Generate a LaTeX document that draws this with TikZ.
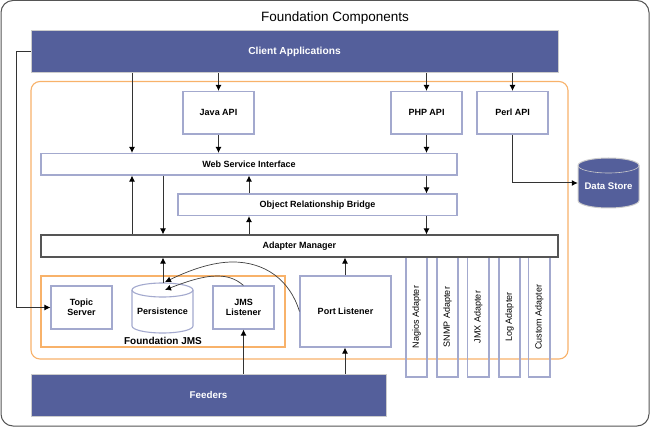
\documentclass[tikz,border=0pt]{standalone}
\usepackage{fontspec}
\setmainfont{Liberation Sans}
\usetikzlibrary{arrows.meta,calc}
\definecolor{navy}{HTML}{545F9B}
\definecolor{bluebd}{HTML}{A3A9CE}
\definecolor{orangebd}{HTML}{F8B26A}
\definecolor{darkbd}{HTML}{555555}
\tikzset{
  lbl/.style={font=\bfseries\fontsize{9}{10.5}\selectfont,align=center,text=black},
  rbox/.style={draw=#1,line width=1.1pt,inner sep=0pt,lbl},
  rbox/.default=bluebd,
  band/.style={fill=navy,draw=black!20,line width=1pt,inner sep=0pt,lbl,text=white},
  adapter/.style={rbox,font=\fontsize{9}{10.5}\selectfont,minimum height=120pt},
  conn/.style={draw=black!80,line width=1pt,-{Latex[length=6pt,width=6pt,black]}},
  curve/.style={draw=black!75,line width=0.7pt,-{Latex[length=6pt,width=6pt,black]}},
  panel/.style={draw=orangebd,line width=1.1pt}
}
\newcommand{\bx}[6]{\node[#1,minimum width=#5-#3,minimum height=#6-#4,anchor=center] (#2) at ({(#3+#5)/2},{(#4+#6)/2})}
\begin{document}
\begin{tikzpicture}[x=1pt,y=-1pt]
\useasboundingbox (0,0) rectangle (650,427);
\draw[darkbd,line width=1pt,rounded corners=12pt,fill=white] (1,0.5) rectangle (649,426);
\node[font=\fontsize{13.5}{16}\selectfont] (title) at (335,18) {Foundation Components};
\draw[panel,rounded corners=9pt] (31,81.5) rectangle (568,359);
\bx{band,font=\bfseries\fontsize{10.2}{12}\selectfont}{client}{31}{31}{558}{73} {Client Applications};
\bx{band,font=\bfseries\fontsize{9.8}{12}\selectfont}{feeders}{31}{374}{386}{416} {Feeders};
\bx{rbox}{java}{183}{91.5}{254}{134} {Java API};
\bx{rbox}{php}{391}{91.5}{462}{134} {PHP API};
\bx{rbox}{perl}{477}{91.5}{548}{134} {Perl API};
\bx{rbox}{ws}{41}{153.5}{457}{175} {Web Service Interface};
\bx{rbox}{orb}{178}{194}{457}{215.5} {Object Relationship Bridge};
\draw[panel] (41,276) rectangle (285,347);
\node[lbl,font=\bfseries\fontsize{10}{12}\selectfont] (jmslabel) at (163,341) {Foundation JMS};
\bx{rbox}{topic}{51}{286}{112}{329} {Topic\\Server};
\bx{rbox}{jmsl}{213}{286}{274}{329} {JMS\\Listener};
\bx{rbox}{port}{300}{276}{391}{347} {Port Listener};
\foreach \n/\l/\r/\t in {nagios/406/427/Nagios Adapter,snmp/437/458/SNMP Adapter,jmx/467.5/489/JMX Adapter,log/499/520/Log Adapter,custom/528.5/550/Custom Adapter}{
  \node[adapter,minimum width=\r-\l] (\n) at ({(\l+\r)/2},317) {};
  \node[rotate=90,font=\fontsize{9}{10.5}\selectfont] (\n-text) at (\n.center) {\t};
}
\bx{rbox=darkbd}{am}{41}{235}{558}{257} {Adapter Manager};
% Persistence drum
\node[inner sep=0pt,minimum width=61pt,minimum height=50pt] (persist) at (162.5,308) {};
\draw[bluebd,line width=1.1pt,fill=white] (132,290) arc[x radius=30.5,y radius=7,start angle=180,end angle=360] -- (193,326) arc[x radius=30.5,y radius=7,start angle=0,end angle=180] -- cycle;
\draw[bluebd,line width=1.1pt] (132,290) arc[x radius=30.5,y radius=7,start angle=180,end angle=0];
\node[lbl] (persist-text) at (162.5,311) {Persistence};
% Data Store drum
\node[inner sep=0pt,minimum width=61pt,minimum height=50pt] (ds) at (608.5,183) {};
\draw[black!20,line width=1pt,fill=navy] (578,165.5) arc[x radius=30.5,y radius=7.5,start angle=180,end angle=360] -- (639,200.5) arc[x radius=30.5,y radius=7.5,start angle=0,end angle=180] -- cycle;
\draw[black!20,line width=0.6pt] (578,165.5) arc[x radius=30.5,y radius=7.5,start angle=180,end angle=0];
\node[lbl,text=white,font=\bfseries\fontsize{9.6}{12}\selectfont] (ds-text) at (608.5,186) {Data Store};
% vertical guide coordinates
\coordinate (a) at (132,0);
\coordinate (b) at (163,0);
\coordinate (c) at (249,0);
\coordinate (d) at (426.5,0);
\coordinate (e) at (345,0);
\coordinate (f) at (16,0);
\coordinate (g) at (0,52);
\coordinate (h) at (0,183);
\draw[conn] (client.south -| a) -- (ws.north -| a);
\draw[conn] (client.south -| java.north) -- (java.north);
\draw[conn] (client.south -| php.north) -- (php.north);
\draw[conn] (client.south -| perl.north) -- (perl.north);
\draw[conn] (java.south) -- (java.south |- ws.north);
\draw[conn] (php.south) -- (php.south |- ws.north);
\draw[conn] (ws.south -| d) -- (orb.north -| d);
\draw[conn] (orb.south -| d) -- (am.north -| d);
\draw[conn] (orb.north -| c) -- (ws.south -| c);
\draw[conn] (am.north -| c) -- (orb.south -| c);
\draw[conn] (am.north -| a) -- (ws.south -| a);
\draw[conn] (ws.south -| b) -- (am.north -| b);
\draw[conn] (persist.north -| b) -- (am.south -| b);
\draw[conn] (port.north -| e) -- (am.south -| e);
\draw[conn] (feeders.north -| e) -- (port.south -| e);
\draw[conn] (feeders.north -| jmsl.south) -- (jmsl.south);
\draw[conn] (client.west |- g) -- (g -| f) |- (topic.west);
\draw[conn] (perl.south) |- (h -| ds.west);
\draw[curve] (jmsl.north) .. controls (236,279) and (228,276) .. (217,276) .. controls (203,276) and (185,282) .. (165,290);
\draw[curve] (port.west) .. controls (290,280) and (265,262) .. (233,262) .. controls (212,262) and (190,270) .. (165,282);
\end{tikzpicture}
\end{document}
